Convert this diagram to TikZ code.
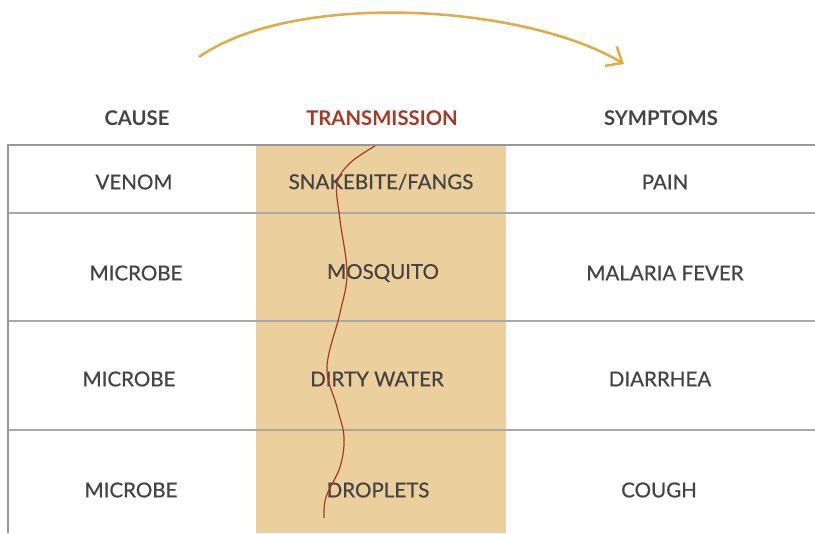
\documentclass[tikz,border=0pt]{standalone}
\usepackage{fontspec}
\setmainfont{Lato}
\newfontface\cellfont{Lato}[FakeBold=0.6]
\usetikzlibrary{arrows.meta}
\definecolor{tan}{HTML}{EBCF9C}
\definecolor{txt}{HTML}{444444}
\definecolor{redl}{HTML}{A53A28}
\definecolor{gold}{HTML}{E2AC45}
\definecolor{rule}{HTML}{A8A8A8}
\begin{document}
\begin{tikzpicture}[x=0.75pt,y=-0.75pt,
  cell/.style={text=txt,font=\cellfont\fontsize{15.4}{17}\selectfont,inner sep=0pt},
  head/.style={text=txt,font=\bfseries\fontsize{15.2}{17}\selectfont,inner sep=0pt},
  thin/.style={draw=rule,line width=1.1pt},
  thick/.style={draw=rule!90!black,line width=2pt}]
\useasboundingbox (0,0) rectangle (815,533);
% tan column
\fill[tan] (256,145) rectangle (506,533);
% rules
\draw[thin] (8,213) -- (815,213);
\draw[thin] (8,321) -- (815,321);
\draw[thin] (8,430) -- (815,430);
\draw[thick] (8,145) -- (815,145);
\draw[thick] (8,144) -- (8,533);
% headers
\node[head] (h1) at (137,118) {CAUSE};
\node[head,text=redl] (h2) at (382,118) {TRANSMISSION};
\node[head] (h3) at (661,118) {SYMPTOMS};
% rows
\node[cell] (a1) at (134,182) {VENOM};
\node[cell] (b1) at (381,182) {SNAKEBITE/FANGS};
\node[cell] (c1) at (665,182) {PAIN};
\node[cell] (a2) at (136,273) {MICROBE};
\node[cell] (b2) at (383,273) {MOSQUITO};
\node[cell] (c2) at (665,273) {MALARIA FEVER};
\node[cell] (a3) at (129,379) {MICROBE};
\node[cell] (b3) at (377,379) {DIRTY WATER};
\node[cell] (c3) at (660,379) {DIARRHEA};
\node[cell] (a4) at (131,490) {MICROBE};
\node[cell] (b4) at (378,490) {DROPLETS};
\node[cell] (c4) at (659,490) {COUGH};
% wavy line
\draw[redl,line width=0.9pt] plot[smooth,tension=0.6] coordinates {
 (375,146) (350,163) (337,184) (340,220) (347,273) (340,313) (327,367)
 (337,407) (344,437) (340,467) (326,497) (324,518)};
% arc arrow
\coordinate (s) at (199,57);
\coordinate (e) at (624,64);
\draw[gold,line width=1.9pt,-{Straight Barb[length=10pt,width=17pt,line width=1.9pt]}]
  (s) .. controls (294,-9.5) and (524,4) .. (e);
\end{tikzpicture}
\end{document}
